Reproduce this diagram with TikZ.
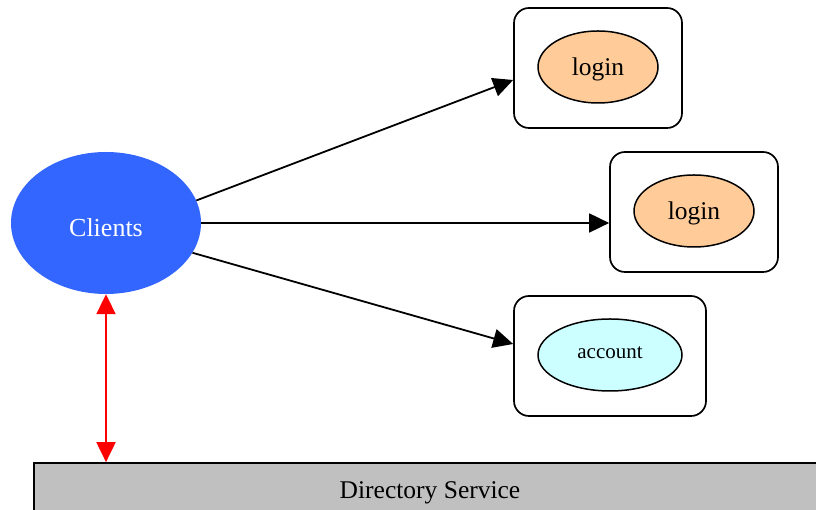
\documentclass[tikz,border=0pt]{standalone}
\usepackage{fontspec}
\setmainfont{Liberation Serif}
\usetikzlibrary{shapes.geometric,arrows.meta}

\definecolor{clientblue}{HTML}{3366FF}
\definecolor{loginfill}{HTML}{FFCC99}
\definecolor{accountfill}{HTML}{CCFFFF}
\definecolor{dirgrey}{HTML}{C0C0C0}

% draw a label shifted vertically while keeping its box size for centring
\newcommand{\shiftlabel}[2]{\raisebox{#1}[\height][\depth]{#2}}

\tikzset{
  svc/.style={ellipse, draw=black, line width=1.5pt, inner sep=0pt,
    minimum width=120pt, minimum height=72pt,
    font=\fontsize{25.5}{30}\selectfont},
  cluster/.style={draw=black, line width=1.7pt, rounded corners=15pt,
    inner sep=0pt, minimum height=120pt},
  link/.style={draw=black, line width=1.8pt,
    -{Triangle[length=20pt,width=19pt]}},
  dirlink/.style={draw=red, line width=2pt,
    {Triangle[length=20pt,width=19pt]}-{Triangle[length=20pt,width=19pt]}}
}

\begin{document}
\begin{tikzpicture}[x=1pt,y=1pt]
  \useasboundingbox (0,0) rectangle (816,510);

  % service groups
  \node[cluster, minimum width=168pt] (box1) at (598,442) {};
  \node[cluster, minimum width=168pt] (box2) at (694,298) {};
  \node[cluster, minimum width=192pt] (box3) at (610,154) {};

  % services
  \node[svc, fill=loginfill] (login1) at (598,443) {\shiftlabel{-2pt}{login}};
  \node[svc, fill=loginfill] (login2) at (694,299) {\shiftlabel{-2pt}{login}};
  \node[svc, fill=accountfill, minimum width=144pt,
        font=\fontsize{21}{25}\selectfont] (account) at (610,155)
        {\shiftlabel{2pt}{account}};

  % clients
  \node[ellipse, fill=clientblue, inner sep=0pt, minimum width=190pt,
        minimum height=142pt, text=white,
        font=\fontsize{26}{30}\selectfont] (clients) at (106,287)
        {\shiftlabel{-5pt}{Clients}};

  % directory service bar
  \node[draw=black, line width=1.7pt, fill=dirgrey, inner sep=0pt,
        minimum width=792pt, minimum height=54pt,
        font=\fontsize{25.5}{30}\selectfont] (dir) at (430,20)
        {\shiftlabel{-3pt}{Directory Service}};

  % requests from the clients
  \draw[link] (clients.14) -- ([yshift=-12pt]box1.west);
  \draw[link] (clients.east) -- ([yshift=-11pt]box2.west);
  \draw[link] (clients.-19) -- ([yshift=12pt]box3.west);

  % lookup against the directory
  \draw[dirlink] (clients.south) -- (clients.south |- dir.north);
\end{tikzpicture}
\end{document}
